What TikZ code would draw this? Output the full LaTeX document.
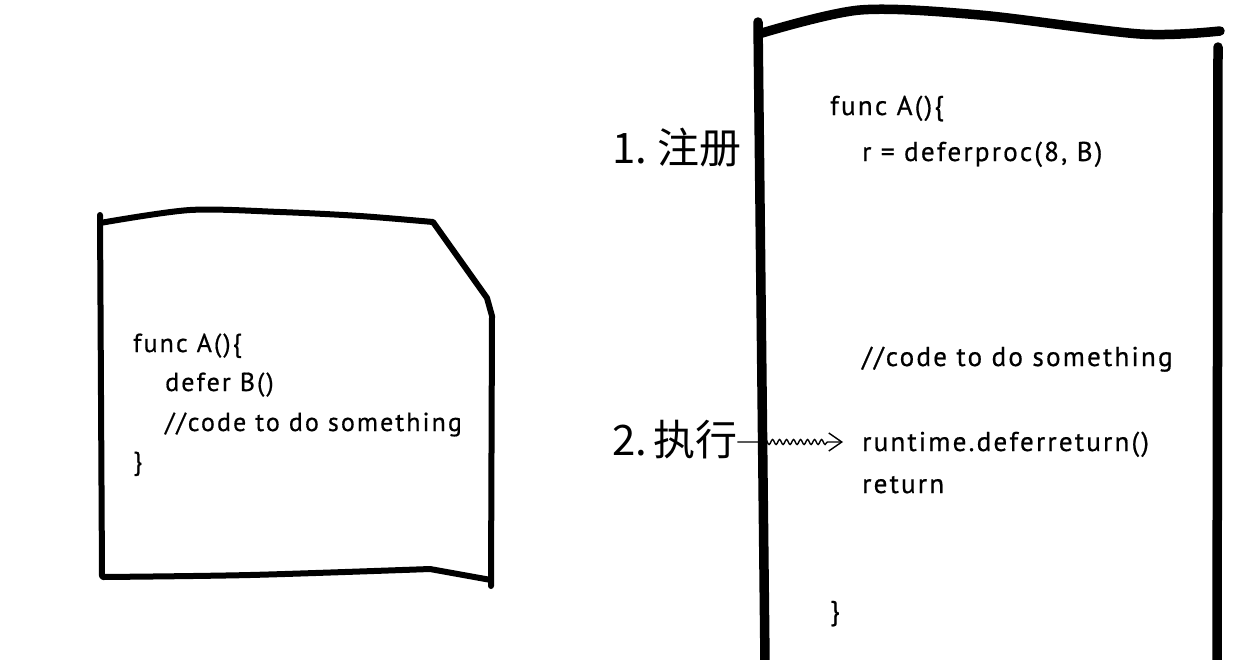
\documentclass[tikz,border=0pt]{standalone}
\usepackage{fontspec}
\newfontfamily\codefont[LetterSpace=8,FakeBold=0.6]{PT Sans}
\newfontfamily\cjk{Noto Sans CJK SC}
\usetikzlibrary{decorations.pathmorphing,arrows.meta}
\begin{document}
\begin{tikzpicture}[x=1pt,y=-1pt,
  thinbox/.style={line width=6pt,line cap=round,line join=round},
  thickbox/.style={line width=9.5pt,line cap=round,line join=round},
  code/.style={anchor=base west,inner sep=0pt,font=\codefont\fontsize{27.2}{30}\selectfont},
  codeL/.style={anchor=base west,inner sep=0pt,font=\codefont\fontsize{26}{30}\selectfont},
  lbl/.style={anchor=west,inner sep=0pt,font=\cjk\fontsize{42}{50}\selectfont},
  wavy/.style={line width=1.4pt,decorate,decoration={snake,amplitude=2.5pt,segment length=7pt,pre length=26pt,post length=13pt},-{Straight Barb[length=13pt,width=18pt,line width=1.4pt]}}]
\useasboundingbox (0,0) rectangle (1257,659);
\fill[white] (0,0) rectangle (1257,659);
% left box
\draw[thinbox] (100,215) -- (102,576);
\draw[thinbox] plot[smooth] coordinates {(100,223) (190,210) (280,212) (360,216) (433,222)}
  -- (487,298) -- (492,316) -- (491,586);
\draw[thinbox] plot[smooth] coordinates {(103,577) (250,575) (430,569)} -- (491,580);
% left code
\node[codeL] (l1) at (133,352) {func A()\{};
\node[codeL] (l2) at (165,391) {defer B()};
\node[codeL] (l3) at (165,431) {//code to do something};
\node[codeL] (l4) at (133,470) {\}};
% right box
\draw[thickbox] (758,22) -- (765,662);
\draw[thickbox] plot[smooth] coordinates {(762,33) (860,10) (980,15) (1140,34) (1220,31)};
\draw[thickbox] (1218,47) -- (1217,662);
% right code
\node[code] (r1) at (830,115) {func A()\{};
\node[code] (r2) at (862,161) {r = deferproc(8, B)};
\node[code] (r3) at (862,366) {//code to do something};
\node[code] (r4) at (862,451) {runtime.deferreturn()};
\node[code] (r5) at (862,493) {return};
\node[code] (r6) at (830,620) {\}};
% labels
\node[lbl] (reg) at (612,148) {1.\hspace{10pt}注册};
\node[lbl] (exe) at (612,440) {2.\hspace{6pt}执行};
\coordinate (tip) at (843,442);
\draw[wavy] (exe.east |- 0,442) -- (tip);
\end{tikzpicture}
\end{document}
